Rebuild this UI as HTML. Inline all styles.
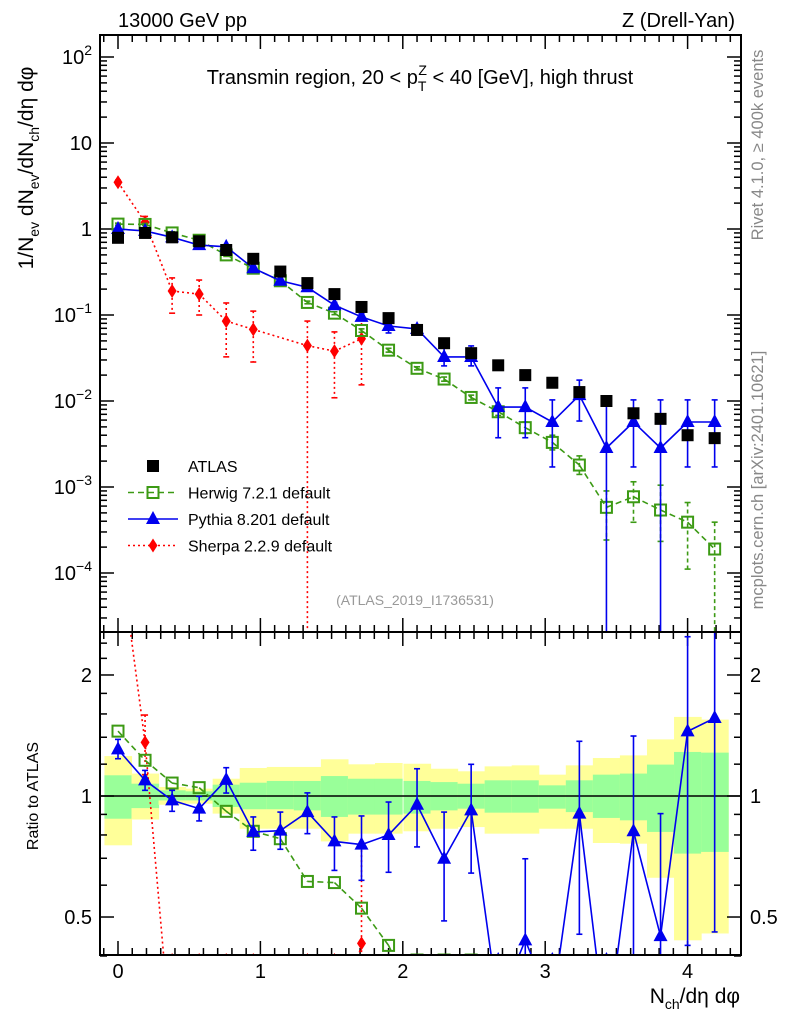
<!DOCTYPE html>
<html><head><meta charset="utf-8"><style>
html,body{margin:0;padding:0;background:#fff;width:786px;height:1024px;overflow:hidden}
svg{display:block;font-family:"Liberation Sans",sans-serif}
</style></head><body>
<svg id="chart" width="786" height="1024" viewBox="0 0 786 1024" xmlns="http://www.w3.org/2000/svg">
<defs>
<clipPath id="cm"><rect x="100" y="35" width="641" height="597"/></clipPath>
<clipPath id="cr"><rect x="100" y="632" width="641" height="323"/></clipPath>
</defs>
<g id="bands" clip-path="url(#cr)"></g>
<line x1="100" y1="796" x2="741" y2="796" stroke="#000" stroke-width="1.5"/>
<g id="ticks"></g>
<g id="mainData" clip-path="url(#cm)"></g>
<g id="ratioData" clip-path="url(#cr)"></g>
<rect x="100" y="35" width="641" height="597" fill="none" stroke="#000" stroke-width="2"/>
<rect x="100" y="632" width="641" height="323" fill="none" stroke="#000" stroke-width="2"/>
<text x="118" y="27" font-size="20">13000 GeV pp</text>
<text x="735" y="27" font-size="20" text-anchor="end">Z (Drell-Yan)</text>
<text x="420" y="84" font-size="20" text-anchor="middle">Transmin region, 20 &lt; p<tspan font-size="14" dy="7">T</tspan><tspan font-size="14" dx="-8" dy="-16">Z</tspan><tspan dy="9"> &lt; 40 [GeV], high thrust</tspan></text>
<text transform="translate(33,168) rotate(-90)" font-size="21" text-anchor="middle">1/N<tspan font-size="14" dy="6">ev</tspan><tspan dy="-6"> dN</tspan><tspan font-size="14" dy="6">ev</tspan><tspan dy="-6">/dN</tspan><tspan font-size="14" dy="6">ch</tspan><tspan dy="-6">/dη dφ</tspan></text>
<text transform="translate(38,796) rotate(-90)" font-size="16" text-anchor="middle">Ratio to ATLAS</text>
<text x="740" y="1003" font-size="21" text-anchor="end">N<tspan font-size="14" dy="6">ch</tspan><tspan dy="-6">/dη dφ</tspan></text>
<text transform="translate(763,145) rotate(-90)" font-size="16.5" fill="#888" text-anchor="middle">Rivet 4.1.0, ≥ 400k events</text>
<text transform="translate(763,480) rotate(-90)" font-size="16.5" fill="#888" text-anchor="middle">mcplots.cern.ch [arXiv:2401.10621]</text>
<text x="415" y="605" font-size="14" fill="#999" text-anchor="middle">(ATLAS_2019_I1736531)</text>
<g id="legend"></g>
</svg>
<script>
const xCenters = [0,0.19,0.38,0.57,0.76,0.95,1.14,1.33,1.52,1.71,1.90,2.10,2.29,2.48,2.67,2.86,3.05,3.24,3.43,3.62,3.81,4.00,4.19];
const atlasVals = [0.79,0.9,0.8,0.72,0.57,0.45,0.32,0.235,0.175,0.124,0.092,0.067,0.047,0.036,0.026,0.020,0.0163,0.0127,0.0100,0.0072,0.0062,0.0040,0.0037];
const pythiaVals = [1.0,0.95,0.8,0.65,0.62,0.35,0.25,0.21,0.13,0.095,0.0745,0.0688,0.0325,0.0325,0.0085,0.0085,0.0057,0.0117,0.00284,0.0057,0.00284,0.0057,0.0057];
const pythiaHi = [1.04,0.99,0.83,0.68,0.65,0.37,0.265,0.225,0.14,0.103,0.0875,0.0766,0.0437,0.0437,0.0142,0.0142,0.0103,0.0175,0.0103,0.0103,0.0103,0.0103,0.0103];
const pythiaLo = [0.96,0.91,0.77,0.62,0.59,0.33,0.235,0.195,0.12,0.087,0.0618,0.0585,0.0256,0.0256,0.00374,0.00374,0.00171,0.00585,1e-7,0.00171,1e-7,0.00171,0.00171];
const herwigVals = [1.14,1.13,0.9,0.74,0.5,0.35,0.25,0.14,0.105,0.066,0.039,0.024,0.018,0.011,0.0075,0.0049,0.0033,0.0018,0.00058,0.00077,0.00054,0.00039,0.00019];
const herwigHi = [1.17,1.16,0.93,0.76,0.52,0.36,0.26,0.145,0.109,0.069,0.041,0.025,0.019,0.0117,0.0082,0.0057,0.0040,0.0023,0.0009,0.00115,0.00105,0.00066,0.00039];
const herwigLo = [1.11,1.10,0.87,0.72,0.48,0.34,0.24,0.135,0.101,0.063,0.037,0.023,0.017,0.0103,0.0068,0.0042,0.0027,0.0014,0.000242,0.000389,0.000233,0.000111,1e-7];
const sherpaVals = [3.5,1.2,0.19,0.175,0.085,0.068,null,0.044,0.038,0.053];
const sherpaHi = [3.7,1.4,0.27,0.255,0.138,0.111,null,0.085,0.0636,0.1055];
const sherpaLo = [3.3,1.0,0.105,0.1,0.0326,0.0284,null,1e-7,0.0109,0.0154];
const pythiaRatio = [1.306,1.094,0.975,0.93,1.097,0.814,0.82,0.912,0.771,0.757,0.80,0.951,0.698,0.921,0.30,0.4375,0.30,0.904,0.25,0.817,0.448,1.448,1.563];
const pythiaRatioHi = [1.383,1.158,1.033,0.998,1.176,0.887,0.912,1.018,0.887,0.892,0.966,1.169,0.912,1.199,null,0.698,null,1.368,null,1.41,0.904,2.49,3.0];
const pythiaRatioLo = [1.238,1.033,0.916,0.867,1.017,0.733,0.737,0.806,0.653,0.617,0.646,0.747,0.489,0.643,null,0.1,null,0.453,null,0.1,0.1,0.425,0.459];
const herwigRatio = [1.45,1.227,1.077,1.049,0.916,0.817,0.783,0.613,0.609,0.526,0.425,0.3,0.25,0.2];
const sherpaRatio = [4.4,1.36,0.23,0.24,0.15,0.15,null,0.19,0.22,0.43];
const sherpaRatioHi = [null,1.59,null,null,null,null,null,null,null,0.755];
const sherpaRatioLo = [null,1.13,null,null,null,null,null,null,null,0.3];
const yellowHi = [1.257,1.137,1.053,1.043,1.104,1.174,1.181,1.181,1.234,1.199,1.208,1.203,1.169,1.152,1.185,1.192,1.130,1.192,1.243,1.262,1.383,1.573,1.549];
const yellowLo = [0.754,0.874,0.951,0.957,0.904,0.829,0.829,0.829,0.771,0.806,0.806,0.817,0.829,0.837,0.806,0.806,0.829,0.829,0.764,0.761,0.626,0.4375,0.455];
const greenHi = [1.126,1.073,1.033,1.027,1.067,1.079,1.090,1.090,1.121,1.104,1.104,1.090,1.083,1.073,1.094,1.094,1.063,1.094,1.130,1.137,1.197,1.287,1.282];
const greenLo = [0.878,0.933,0.975,0.975,0.939,0.927,0.927,0.921,0.887,0.899,0.899,0.904,0.921,0.930,0.909,0.909,0.930,0.912,0.882,0.870,0.814,0.719,0.726];
const binWidth = 0.1905;
const mainTickLabels = [["10","2"],["10",""],["1",""],["10","−1"],["10","−2"],["10","−3"],["10","−4"]];
const mainTickPowers = [2,1,0,-1,-2,-3,-4];
const ratioTickVals = [2,1,0.5];
const ratioTickLabels = ["2","1","0.5"];
const xTickVals = [0,1,2,3,4];
const xTickLabels = ["0","1","2","3","4"];

const NS="http://www.w3.org/2000/svg";
const clamp=(v,a,b)=>Math.max(a,Math.min(b,v));
const X=v=>118+142.4*v;
const Yraw=v=>229-86*Math.log10(v);
const Rraw=r=>796-402*Math.log10(r);
const Y=v=>clamp(Yraw(v),30,640);
const R=r=>clamp(Rraw(r),625,960);
function mk(tag,attrs,parent){const e=document.createElementNS(NS,tag);for(const k in attrs)e.setAttribute(k,attrs[k]);parent.appendChild(e);return e;}
const bands=document.getElementById('bands'),ticks=document.getElementById('ticks'),md=document.getElementById('mainData'),rd=document.getElementById('ratioData'),lg=document.getElementById('legend');

xCenters.forEach((c,i)=>{
  const x0=X(c-binWidth/2),w=X(c+binWidth/2)-x0;
  let e=mk('rect',{x:x0,y:R(yellowHi[i]),width:w+0.5,height:R(yellowLo[i])-R(yellowHi[i]),fill:'#ffff99'},bands);
  
  
  e=mk('rect',{x:x0,y:R(greenHi[i]),width:w+0.5,height:R(greenLo[i])-R(greenHi[i]),fill:'#99ff99'},bands);
  
  
});

function tk(x1,y1,x2,y2){mk('line',{x1,y1,x2,y2,stroke:'#000','stroke-width':1.5},ticks);}
for(let v=-0.1; v <= 4.31; v+=0.1){const vv=Math.round(v*10)/10;const big=Math.abs(vv-Math.round(vv)) < 1e-6;const L=big?14:7;
  tk(X(vv),632,X(vv),632-L);tk(X(vv),35,X(vv),35+L);tk(X(vv),955,X(vv),955-L);tk(X(vv),632,X(vv),632+L);}
for(let p=-5; p <= 2; p++){for(let m=1; m <= 9; m++){const v=m*Math.pow(10,p);const yy=Yraw(v);if(yy < 35||yy > 632)continue;const L=m==1?14:7;tk(100,yy,100+L,yy);tk(741,yy,741-L,yy);}}
[0.4,0.5,0.6,0.7,0.8,0.9,1,1.2,1.4,1.6,1.8,2,2.2,2.4].forEach(r=>{const y=R(r);const L=(r==1||r==2||r==0.5)?14:7;tk(100,y,100+L,y);tk(741,y,741-L,y);});
mainTickPowers.forEach((p,i)=>{const t=mk('text',{x:92,y:Y(Math.pow(10,p))+7,'font-size':20,'text-anchor':'end'},ticks);
  
  
  const a=document.createElementNS(NS,'tspan');a.textContent=mainTickLabels[i][0];t.appendChild(a);
  if(mainTickLabels[i][1]){const b=document.createElementNS(NS,'tspan');b.setAttribute('font-size','14');b.setAttribute('dy','-9');b.textContent=mainTickLabels[i][1];t.appendChild(b);}
});
ratioTickVals.forEach((r,i)=>{
  let t=mk('text',{x:92,y:R(r)+7,'font-size':20,'text-anchor':'end'},ticks);t.textContent=ratioTickLabels[i];
  
  
  t=mk('text',{x:750,y:R(r)+7,'font-size':20},ticks);t.textContent=ratioTickLabels[i];
  
  
});
xTickVals.forEach((v,i)=>{const t=mk('text',{x:X(v),y:978,'font-size':20,'text-anchor':'middle'},ticks);t.textContent=xTickLabels[i];
  
  });

function cutSeg(xa,ya,xb,yb,ylo,yhi){let t;if(ya < ylo)t=(ylo-ya)/(yb-ya);else if(ya > yhi)t=(yhi-ya)/(yb-ya);else return [xa,ya];return [xa+t*(xb-xa),ya+t*(yb-ya)];}
function line(g,xs,ys,color,dash,name,ylo,yhi){let d='';let prev=null;
  ys.forEach((y,i)=>{if(y==null)return;const cur=[X(xs[i]),y];
    if(prev){const x1=prev[0],y1=prev[1],x2=cur[0],y2=cur[1];
      const allOut=(y1 < ylo && y2 < ylo)||(y1 > yhi && y2 > yhi);
      if(!allOut){
        const p1=cutSeg(x1,y1,x2,y2,ylo,yhi),p2=cutSeg(x2,y2,x1,y1,ylo,yhi);
        d+='M'+p1[0].toFixed(2)+' '+p1[1].toFixed(2)+' L'+p2[0].toFixed(2)+' '+p2[1].toFixed(2)+' ';
      }}
    prev=cur;});
  const e=mk('path',{d,fill:'none',stroke:color,'stroke-width':1.6,'stroke-dasharray':dash,'stroke-linejoin':'round'},g);
  
  }
function err(g,x,y1,y2,color,dash){mk('line',{x1:x,y1,x2:x,y2,stroke:color,'stroke-width':1.6,'stroke-dasharray':dash},g);mk('line',{x1:x-3,y1,x2:x+3,y2:y1,stroke:color,'stroke-width':1.6},g);mk('line',{x1:x-3,y1:y2,x2:x+3,y2,stroke:color,'stroke-width':1.6},g);}
function marker(g,type,x,y,name){let e;
  if(type=='sq')e=mk('rect',{x:x-6,y:y-6,width:12,height:12,fill:'#000'},g);
  else if(type=='osq')e=mk('rect',{x:x-5.5,y:y-5.5,width:11,height:11,fill:'none',stroke:'#3c9a14','stroke-width':2},g);
  else if(type=='tri')e=mk('polygon',{points:`${x},${y-8} ${x+7},${y+5} ${x-7},${y+5}`,fill:'#0000ee'},g);
  else e=mk('polygon',{points:`${x},${y-7} ${x+4.5},${y} ${x},${y+7} ${x-4.5},${y}`,fill:'#ff0000'},g);
  
  }
const GC='#3c9a14',BC='#0000ee',RC='#ff0000';
line(md,xCenters,sherpaVals.map(v=>v==null?null:Yraw(v)),RC,'2 3','sherpa-line',30,640);
sherpaVals.forEach((v,i)=>{if(v==null)return;err(md,X(xCenters[i]),Y(sherpaHi[i]),Y(sherpaLo[i]),RC,'2 3');marker(md,'dia',X(xCenters[i]),Y(v),'sherpa-point');});
line(md,xCenters,herwigVals.map(Yraw),GC,'6 4','herwig-line',30,640);
herwigVals.forEach((v,i)=>{err(md,X(xCenters[i]),Y(herwigHi[i]),Y(herwigLo[i]),GC,'4 3');marker(md,'osq',X(xCenters[i]),Y(v),'herwig-point');});
line(md,xCenters,pythiaVals.map(Yraw),BC,'','pythia-line',30,640);
pythiaVals.forEach((v,i)=>{err(md,X(xCenters[i]),Y(pythiaHi[i]),Y(pythiaLo[i]),BC,'');marker(md,'tri',X(xCenters[i]),Y(v),'pythia-point');});
atlasVals.forEach((v,i)=>marker(md,'sq',X(xCenters[i]),Y(v),'atlas-point'));
line(rd,xCenters,sherpaRatio.map(v=>v==null?null:Rraw(v)),RC,'2 3','sherpa-ratio-line',625,962);
sherpaRatio.forEach((v,i)=>{if(v==null)return;if(sherpaRatioHi[i]!=null)err(rd,X(xCenters[i]),R(sherpaRatioHi[i]),R(sherpaRatioLo[i]),RC,'2 3');marker(rd,'dia',X(xCenters[i]),R(v),'sherpa-ratio-point');});
line(rd,xCenters.slice(0,herwigRatio.length),herwigRatio.map(Rraw),GC,'6 4','herwig-ratio-line',625,962);
herwigRatio.forEach((v,i)=>marker(rd,'osq',X(xCenters[i]),R(v),'herwig-ratio-point'));
line(rd,xCenters,pythiaRatio.map(Rraw),BC,'','pythia-ratio-line',625,962);
pythiaRatio.forEach((v,i)=>{if(pythiaRatioHi[i]!=null)err(rd,X(xCenters[i]),R(pythiaRatioHi[i]),R(pythiaRatioLo[i]),BC,'');marker(rd,'tri',X(xCenters[i]),R(v),'pythia-ratio-point');});
const legNames=['ATLAS','Herwig 7.2.1 default','Pythia 8.201 default','Sherpa 2.2.9 default'];
const legTypes=['sq','osq','tri','dia'],legCols=[null,GC,BC,RC],legDash=['', '6 4','','2 3'];
legNames.forEach((n,i)=>{const y=466+i*26.5;
  if(i > 0){mk('line',{x1:128,y1:y,x2:178,y2:y,stroke:legCols[i],'stroke-width':1.6,'stroke-dasharray':legDash[i]},lg);}
  marker(lg,legTypes[i],153,y,'legend-marker');
  const t=mk('text',{x:188,y:y+6,'font-size':16},lg);t.textContent=n;
  
  
});
</script>
</body></html>
